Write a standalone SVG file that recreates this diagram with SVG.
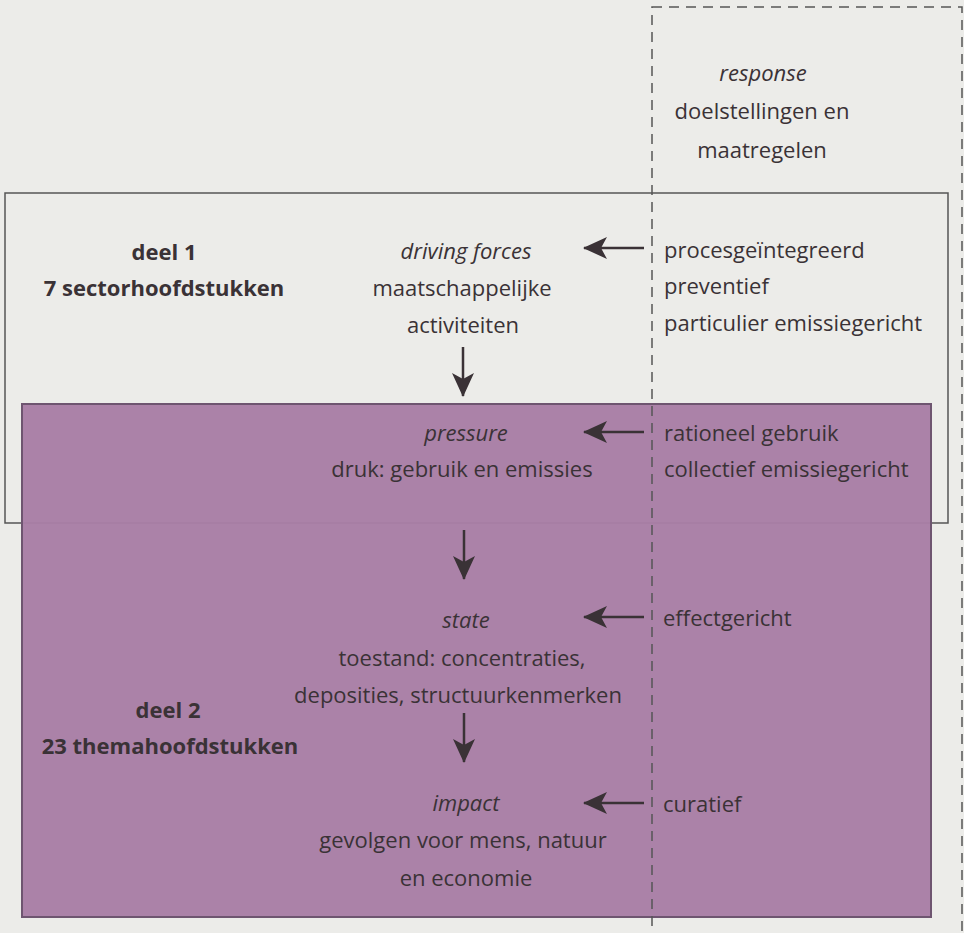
<svg xmlns="http://www.w3.org/2000/svg" width="964" height="933" viewBox="0 0 964 933">
<style>
text{font-family:"Open Sans","Liberation Sans",sans-serif;font-size:22px;fill:#3a3236}
.b{font-weight:bold}
.i{font-style:italic}
.m{text-anchor:middle}
.arr{stroke:#3a3236;stroke-width:2.5;fill:none;marker-end:url(#ah)}
</style>
<defs>
<marker id="ah" viewBox="0 0 24 22" refX="23" refY="11" markerWidth="24" markerHeight="22" markerUnits="userSpaceOnUse" orient="auto">
<path d="M0,0 L24,11 L0,22 L6,11 Z" fill="#3a3236"/>
</marker>
</defs>
<rect width="964" height="933" fill="#ecece9"/>
<g id="deel1">
<rect x="5" y="193" width="943" height="330" fill="none" stroke="#555" stroke-width="1.5"/>
<text class="b m" x="164" y="260">deel 1</text>
<text class="b m" x="164" y="296">7 sectorhoofdstukken</text>
</g>
<g id="deel2">
<rect x="22" y="404" width="909" height="513" fill="#a87ea5" fill-opacity="0.97" stroke="#6e5570" stroke-width="2"/>
<text class="b m" x="168" y="718">deel 2</text>
<text class="b m" x="170" y="754">23 themahoofdstukken</text>
</g>
<g id="response">
<rect x="652" y="7" width="310" height="940" fill="none" stroke="#555" stroke-width="1.5" stroke-dasharray="10,7"/>
<text class="i m" x="763" y="81">response</text>
<text class="m" x="762" y="119">doelstellingen en</text>
<text class="m" x="762" y="158">maatregelen</text>
</g>
<g id="driving">
<text class="i m" x="466" y="259">driving forces</text>
<text class="m" x="462" y="296">maatschappelijke</text>
<text class="m" x="463" y="333">activiteiten</text>
</g>
<g id="pressure">
<text class="i m" x="466" y="441">pressure</text>
<text class="m" x="462" y="477">druk: gebruik en emissies</text>
</g>
<g id="state">
<text class="i m" x="466" y="628">state</text>
<text class="m" x="462" y="666">toestand: concentraties,</text>
<text class="m" x="458" y="703">deposities, structuurkenmerken</text>
</g>
<g id="impact">
<text class="i m" x="466" y="811">impact</text>
<text class="m" x="463" y="848">gevolgen voor mens, natuur</text>
<text class="m" x="466" y="886">en economie</text>
</g>
<g id="measures">
<text x="664" y="258">procesgeïntegreerd</text>
<text x="664" y="294">preventief</text>
<text x="664" y="331">particulier emissiegericht</text>
<text x="664" y="441">rationeel gebruik</text>
<text x="664" y="477">collectief emissiegericht</text>
<text x="663" y="626">effectgericht</text>
<text x="663" y="812">curatief</text>
</g>
<g id="connectors">
<line class="arr" x1="463" y1="347" x2="463" y2="396"/>
<line class="arr" x1="464" y1="530" x2="464" y2="579"/>
<line class="arr" x1="464" y1="713" x2="464" y2="762"/>
<line class="arr" x1="644" y1="248" x2="584" y2="248"/>
<line class="arr" x1="644" y1="432" x2="584" y2="432"/>
<line class="arr" x1="644" y1="617" x2="584" y2="617"/>
<line class="arr" x1="644" y1="803" x2="584" y2="803"/>
</g>
</svg>
